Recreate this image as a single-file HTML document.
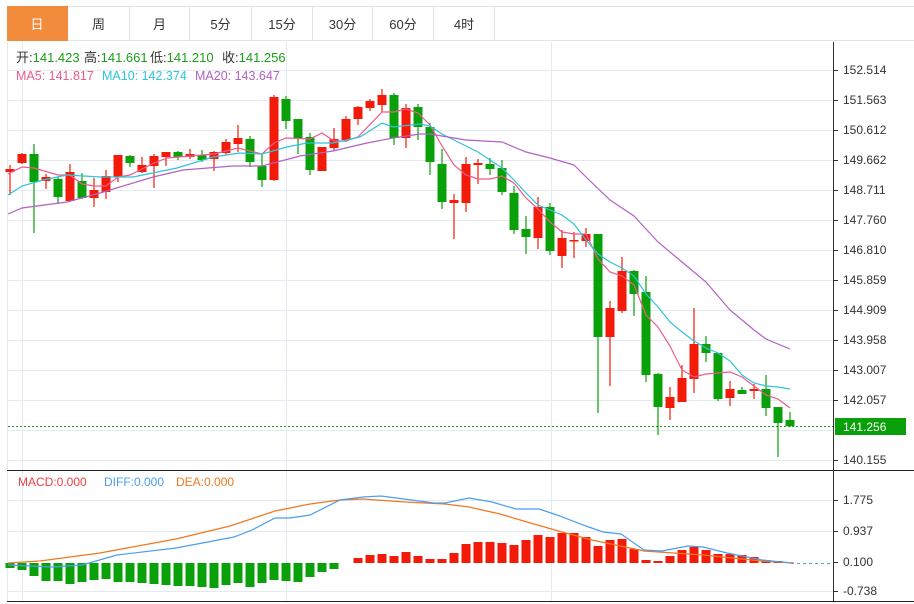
<!DOCTYPE html>
<html><head><meta charset="utf-8"><style>
body{margin:0;background:#fff;width:914px;height:604px;overflow:hidden;font-family:"Liberation Sans","Noto Sans CJK SC",sans-serif}
.tabs{position:absolute;left:7px;top:6px;height:35px;display:flex}
.tab{width:60px;height:35px;border:1px solid #e0e4ea;border-left:none;box-sizing:border-box;text-align:center;line-height:35px;font-size:13px;color:#333}
.tab.a{background:#f28c3c;color:#fff;border-color:#f28c3c}
</style></head><body>
<div class="tabs"><div class="tab a" style="width:61px">日</div><div class="tab" style="width:62px">周</div><div class="tab">月</div><div class="tab" style="width:62px">5分</div><div class="tab" style="width:61px">15分</div><div class="tab">30分</div><div class="tab" style="width:61px">60分</div><div class="tab" style="width:61px">4时</div><div class="tab" style="width:420px"></div></div>
<svg width="914" height="604" style="position:absolute;left:0;top:0" font-family="Liberation Sans, Noto Sans CJK SC, sans-serif">
<g stroke="#e3eaf1" stroke-width="1">
<line x1="8" y1="70.5" x2="833" y2="70.5"/><line x1="8" y1="100.5" x2="833" y2="100.5"/><line x1="8" y1="130.5" x2="833" y2="130.5"/><line x1="8" y1="160.5" x2="833" y2="160.5"/><line x1="8" y1="190.5" x2="833" y2="190.5"/><line x1="8" y1="220.5" x2="833" y2="220.5"/><line x1="8" y1="250.5" x2="833" y2="250.5"/><line x1="8" y1="280.5" x2="833" y2="280.5"/><line x1="8" y1="310.5" x2="833" y2="310.5"/><line x1="8" y1="340.5" x2="833" y2="340.5"/><line x1="8" y1="370.5" x2="833" y2="370.5"/><line x1="8" y1="400.5" x2="833" y2="400.5"/><line x1="8" y1="430.5" x2="833" y2="430.5"/><line x1="8" y1="460.5" x2="833" y2="460.5"/>
<line x1="8" y1="500.5" x2="833" y2="500.5"/><line x1="8" y1="531.5" x2="833" y2="531.5"/><line x1="8" y1="591.5" x2="833" y2="591.5"/>
<line x1="22.5" y1="42" x2="22.5" y2="601"/><line x1="286.5" y1="42" x2="286.5" y2="601"/><line x1="551.5" y1="42" x2="551.5" y2="601"/>
<line x1="7.5" y1="42" x2="7.5" y2="601"/>
</g>
<line x1="833.5" y1="42" x2="833.5" y2="601" stroke="#333"/>
<line x1="7" y1="470.5" x2="914" y2="470.5" stroke="#222"/>
<line x1="7" y1="601.5" x2="914" y2="601.5" stroke="#222"/>
<g font-size="12" fill="#333">
<text x="843" y="74">152.514</text><text x="843" y="104">151.563</text><text x="843" y="134">150.612</text><text x="843" y="164">149.662</text><text x="843" y="194">148.711</text><text x="843" y="224">147.760</text><text x="843" y="254">146.810</text><text x="843" y="284">145.859</text><text x="843" y="314">144.909</text><text x="843" y="344">143.958</text><text x="843" y="374">143.007</text><text x="843" y="404">142.057</text><text x="843" y="464">140.155</text>
<text x="843" y="504">1.775</text><text x="843" y="535">0.937</text><text x="843" y="566">0.100</text><text x="843" y="595">-0.738</text>
</g>
<g stroke="#333"><line x1="833" y1="70.5" x2="838" y2="70.5"/><line x1="833" y1="100.5" x2="838" y2="100.5"/><line x1="833" y1="130.5" x2="838" y2="130.5"/><line x1="833" y1="160.5" x2="838" y2="160.5"/><line x1="833" y1="190.5" x2="838" y2="190.5"/><line x1="833" y1="220.5" x2="838" y2="220.5"/><line x1="833" y1="250.5" x2="838" y2="250.5"/><line x1="833" y1="280.5" x2="838" y2="280.5"/><line x1="833" y1="310.5" x2="838" y2="310.5"/><line x1="833" y1="340.5" x2="838" y2="340.5"/><line x1="833" y1="370.5" x2="838" y2="370.5"/><line x1="833" y1="400.5" x2="838" y2="400.5"/><line x1="833" y1="460.5" x2="838" y2="460.5"/><line x1="833" y1="500.5" x2="838" y2="500.5"/><line x1="833" y1="531.5" x2="838" y2="531.5"/><line x1="833" y1="562.5" x2="838" y2="562.5"/><line x1="833" y1="591.5" x2="838" y2="591.5"/></g>
<g font-size="13" fill="#333">
<text x="16" y="62">开:<tspan fill="#1a9e1a">141.423</tspan></text>
<text x="84" y="62">高:<tspan fill="#1a9e1a">141.661</tspan></text>
<text x="150" y="62">低:<tspan fill="#1a9e1a">141.210</tspan></text>
<text x="222" y="62">收:<tspan fill="#1a9e1a">141.256</tspan></text>
</g>
<g font-size="12.5">
<text x="16" y="80" fill="#ee5b8c">MA5: 141.817</text><text x="102" y="80" fill="#2ec4dc">MA10: 142.374</text><text x="195" y="80" fill="#b35fc6">MA20: 143.647</text>
</g>
<g font-size="12"><text x="18" y="486" fill="#f04040">MACD:0.000</text><text x="104" y="486" fill="#4a9ef0">DIFF:0.000</text><text x="176" y="486" fill="#f07820">DEA:0.000</text></g>
<line x1="8" y1="426.5" x2="833" y2="426.5" stroke="#1aa01a" stroke-dasharray="2,2"/>
<rect x="835" y="418" width="71" height="17" fill="#0aa00a"/><text x="843" y="431" font-size="12" fill="#fff">141.256</text>
<path fill="none" stroke="#f21a08" stroke-width="1.2" d="M10 165V195M22 153V164M46 174V189M70 164V201M94 178V207M106 170V199M118 155V182M142 157V173M154 154V188M166 152V166M190 149V159M214 151V171M226 139V155M238 125V152M274 95V181M322 147V171M334 128V151M346 116V142M358 106V125M370 99V111M382 89V112M406 104V148M454 194V239M466 157V212M478 159V184M538 197V249M562 230V268M574 232V258M586 228V247M610 301V386M622 257V313M670 387V420M682 365V402M694 308V393M730 381V406M754 384V399"/>
<path fill="none" stroke="#0aa00a" stroke-width="1.2" d="M34 144V233M58 177V204M82 173V199M130 155V167M178 151V160M202 150V162M250 136V167M262 154V187M286 96V129M298 119V154M310 133V175M394 93V145M418 104V140M430 123V175M442 149V209M490 158V175M502 160V195M514 186V234M526 216V254M550 203V255M598 234V413M634 270V316M646 276V382M658 373V435M706 336V362M718 353V401M742 387V394M766 375V416M778 407V457M790 412V427"/>
<g fill="#f21a08">
<rect x="5.5" y="169" width="9" height="3"/><rect x="17.5" y="154" width="9" height="9"/><rect x="41.5" y="177" width="9" height="4"/><rect x="65.5" y="172" width="9" height="29"/><rect x="89.5" y="190" width="9" height="8"/><rect x="101.5" y="176" width="9" height="16"/><rect x="113.5" y="155" width="9" height="22"/><rect x="137.5" y="165" width="9" height="7"/><rect x="149.5" y="156" width="9" height="10"/><rect x="161.5" y="152" width="9" height="5"/><rect x="185.5" y="154" width="9" height="3"/><rect x="209.5" y="152" width="9" height="7"/><rect x="221.5" y="142" width="9" height="11"/><rect x="233.5" y="138" width="9" height="6"/><rect x="269.5" y="97" width="9" height="83"/><rect x="317.5" y="147" width="9" height="24"/><rect x="329.5" y="139" width="9" height="9"/><rect x="341.5" y="119" width="9" height="21"/><rect x="353.5" y="107" width="9" height="12"/><rect x="365.5" y="101" width="9" height="7"/><rect x="377.5" y="95" width="9" height="10"/><rect x="401.5" y="108" width="9" height="30"/><rect x="449.5" y="200" width="9" height="3"/><rect x="461.5" y="164" width="9" height="39"/><rect x="473.5" y="163" width="9" height="2"/><rect x="533.5" y="207" width="9" height="31"/><rect x="557.5" y="238" width="9" height="18"/><rect x="569.5" y="240" width="9" height="1.5"/><rect x="581.5" y="234" width="9" height="7"/><rect x="605.5" y="308" width="9" height="29"/><rect x="617.5" y="271" width="9" height="40"/><rect x="665.5" y="397" width="9" height="11"/><rect x="677.5" y="378" width="9" height="24"/><rect x="689.5" y="344" width="9" height="35"/><rect x="725.5" y="389" width="9" height="9"/><rect x="749.5" y="389" width="9" height="2"/>
</g>
<g fill="#0aa00a">
<rect x="29.5" y="154" width="9" height="28"/><rect x="53.5" y="179" width="9" height="18"/><rect x="77.5" y="181" width="9" height="17"/><rect x="125.5" y="156" width="9" height="7"/><rect x="173.5" y="152" width="9" height="5"/><rect x="197.5" y="155" width="9" height="5"/><rect x="245.5" y="139" width="9" height="23"/><rect x="257.5" y="166" width="9" height="14"/><rect x="281.5" y="99" width="9" height="22"/><rect x="293.5" y="119" width="9" height="19"/><rect x="305.5" y="137" width="9" height="33"/><rect x="389.5" y="95" width="9" height="43"/><rect x="413.5" y="107" width="9" height="20"/><rect x="425.5" y="127" width="9" height="35"/><rect x="437.5" y="164" width="9" height="38"/><rect x="485.5" y="164" width="9" height="5"/><rect x="497.5" y="168" width="9" height="24"/><rect x="509.5" y="193" width="9" height="37"/><rect x="521.5" y="229" width="9" height="8"/><rect x="545.5" y="207" width="9" height="44"/><rect x="593.5" y="234" width="9" height="103"/><rect x="629.5" y="271" width="9" height="23"/><rect x="641.5" y="292" width="9" height="83"/><rect x="653.5" y="374" width="9" height="33"/><rect x="701.5" y="344" width="9" height="9"/><rect x="713.5" y="353" width="9" height="46"/><rect x="737.5" y="390" width="9" height="4"/><rect x="761.5" y="389" width="9" height="19"/><rect x="773.5" y="407" width="9" height="16"/><rect x="785.5" y="420" width="9" height="6"/>
</g>
<polyline fill="none" stroke="#ee5b8c" stroke-width="1.2" points="8,174 22,167 34,168 58,175 70,175 82,184 94,186 106,186 118,177 130,175 154,163 167,158 190,156 214,154 238,148 262,154 274,143 286,138 310,139 322,133 334,141 346,141 358,137 382,112 394,112 406,109 418,113 430,125 442,146 454,165 466,175 478,179 490,179 502,176 514,183 526,198 538,209 550,222 562,232 574,234 586,234 598,259 610,272 622,276 634,285 646,315 658,327 670,346 682,370 694,377 706,374 718,373 730,372 742,377 754,386 766,395 778,399 790,408"/>
<polyline fill="none" stroke="#2ec4dc" stroke-width="1.2" points="8,195 22,186 43,180 67,175 100,177 133,177 177,168 213,157 240,153 262,154 287,147 307,143 333,143 360,137 382,123 393,127 420,124 430,126 442,134 454,140 466,146 478,152 490,160 502,168 514,180 526,193 538,205 550,210 562,215 574,224 586,240 598,254 610,262 622,268 634,276 646,294 658,307 670,322 682,332 694,341 706,348 718,353 730,361 742,375 754,383 766,386 778,387 790,389"/>
<polyline fill="none" stroke="#b35fc6" stroke-width="1.2" points="8,214 22,208 67,202 100,193 153,177 183,170 233,166 262,166 300,156 333,151 367,143 393,138 420,134 430,134 466,140 502,142 526,152 550,158 574,165 586,177 610,200 634,216 658,242 682,262 706,282 730,310 754,330 766,339 790,349"/>
<g fill="#0aa00a">
<rect x="5.5" y="563" width="9" height="5"/><rect x="17.5" y="563" width="9" height="7"/><rect x="29.5" y="563" width="9" height="13"/><rect x="41.5" y="563" width="9" height="18"/><rect x="53.5" y="563" width="9" height="18"/><rect x="65.5" y="563" width="9" height="21"/><rect x="77.5" y="563" width="9" height="19"/><rect x="89.5" y="563" width="9" height="17"/><rect x="101.5" y="563" width="9" height="16"/><rect x="113.5" y="563" width="9" height="19"/><rect x="125.5" y="563" width="9" height="19"/><rect x="137.5" y="563" width="9" height="20"/><rect x="149.5" y="563" width="9" height="21"/><rect x="161.5" y="563" width="9" height="22"/><rect x="173.5" y="563" width="9" height="23"/><rect x="185.5" y="563" width="9" height="23"/><rect x="197.5" y="563" width="9" height="24"/><rect x="209.5" y="563" width="9" height="25"/><rect x="221.5" y="563" width="9" height="22"/><rect x="233.5" y="563" width="9" height="20"/><rect x="245.5" y="563" width="9" height="24"/><rect x="257.5" y="563" width="9" height="20"/><rect x="269.5" y="563" width="9" height="17"/><rect x="281.5" y="563" width="9" height="18"/><rect x="293.5" y="563" width="9" height="19"/><rect x="305.5" y="563" width="9" height="14"/><rect x="317.5" y="563" width="9" height="9"/><rect x="329.5" y="563" width="9" height="6"/>
</g>
<g fill="#f21a08">
<rect x="353.5" y="558" width="9" height="5"/><rect x="365.5" y="555" width="9" height="8"/><rect x="377.5" y="554" width="9" height="9"/><rect x="389.5" y="556" width="9" height="7"/><rect x="401.5" y="552" width="9" height="11"/><rect x="413.5" y="556" width="9" height="7"/><rect x="425.5" y="559" width="9" height="4"/><rect x="437.5" y="559" width="9" height="4"/><rect x="449.5" y="553" width="9" height="10"/><rect x="461.5" y="544" width="9" height="19"/><rect x="473.5" y="542" width="9" height="21"/><rect x="485.5" y="542" width="9" height="21"/><rect x="497.5" y="543" width="9" height="20"/><rect x="509.5" y="545" width="9" height="18"/><rect x="521.5" y="540" width="9" height="23"/><rect x="533.5" y="535" width="9" height="28"/><rect x="545.5" y="537" width="9" height="26"/><rect x="557.5" y="533" width="9" height="30"/><rect x="569.5" y="533" width="9" height="30"/><rect x="581.5" y="537" width="9" height="26"/><rect x="593.5" y="546" width="9" height="17"/><rect x="605.5" y="540" width="9" height="23"/><rect x="617.5" y="539" width="9" height="24"/><rect x="629.5" y="549" width="9" height="14"/><rect x="641.5" y="560" width="9" height="3"/><rect x="653.5" y="561" width="9" height="2"/><rect x="665.5" y="556" width="9" height="7"/><rect x="677.5" y="550" width="9" height="13"/><rect x="689.5" y="547" width="9" height="16"/><rect x="701.5" y="550" width="9" height="13"/><rect x="713.5" y="554" width="9" height="9"/><rect x="725.5" y="554" width="9" height="9"/><rect x="737.5" y="555" width="9" height="8"/><rect x="749.5" y="557" width="9" height="6"/><rect x="761.5" y="560" width="9" height="3"/><rect x="773.5" y="561" width="9" height="2"/>
</g>
<line x1="791" y1="563.5" x2="833" y2="563.5" stroke="#4a9ef0" stroke-dasharray="3,3"/>
<polyline fill="none" stroke="#f07820" stroke-width="1.3" points="8,563 40,561 100,553 176,539 230,526 275,511 310,504 340,500 363,499 405,502 445,504 469,507 500,514 527,522 562,532 592,540 644,551 703,555 762,561 794,563"/>
<polyline fill="none" stroke="#4a9ef0" stroke-width="1.2" points="8,565 53,567 82,565 117,555 176,548 234,537 252,530 275,518 290,518 310,515 340,500 363,497 381,496 404,499 434,503 445,503 469,498 492,502 516,509 539,509 557,515 586,526 603,532 621,534 644,550 662,551 688,546 703,547 727,553 762,560 791,563"/>
</svg>
</body></html>
